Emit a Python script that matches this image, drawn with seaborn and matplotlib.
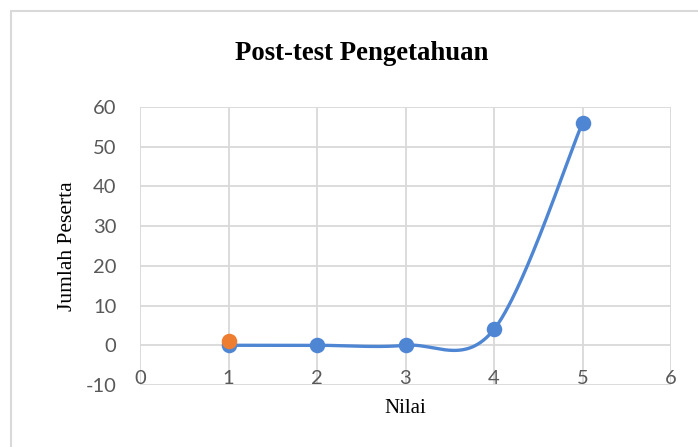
import numpy as np
import matplotlib
matplotlib.use("Agg")
import matplotlib.pyplot as plt
import seaborn as sns
import pandas as pd
from matplotlib.lines import Line2D

# Data
nilai = [1, 2, 3, 4, 5]
jumlah = [0, 0, 0, 4, 56]
extra_x = [1]
extra_y = [1]
x_ticks = [0, 1, 2, 3, 4, 5, 6]
y_ticks = [-10, 0, 10, 20, 30, 40, 50, 60]
title = "Post-test Pengetahuan"
xlabel = "Nilai"
ylabel = "Jumlah Peserta"

blue = "#4F86D3"
orange = "#ED7D31"
grid_c = "#D9D9D9"
tick_c = "#595959"

sns.set_theme(style="white")
plt.rcParams['font.family'] = ['Lato', 'DejaVu Sans']

# Catmull-Rom smoothing (Excel-like smoothed line) through the data points
def smooth(xs, ys, n=60):
    xs = np.asarray(xs, float); ys = np.asarray(ys, float)
    px = np.concatenate([[xs[0]], xs, [xs[-1]]])
    py = np.concatenate([[ys[0]], ys, [ys[-1]]])
    ox, oy = [], []
    for i in range(1, len(px) - 2):
        t = np.linspace(0, 1, n)
        h00 = 2*t**3 - 3*t**2 + 1
        h10 = t**3 - 2*t**2 + t
        h01 = -2*t**3 + 3*t**2
        h11 = t**3 - t**2
        mx0 = (px[i+1] - px[i-1]) / 2; mx1 = (px[i+2] - px[i]) / 2
        my0 = (py[i+1] - py[i-1]) / 2; my1 = (py[i+2] - py[i]) / 2
        ox.append(h00*px[i] + h10*mx0 + h01*px[i+1] + h11*mx1)
        oy.append(h00*py[i] + h10*my0 + h01*py[i+1] + h11*my1)
    return np.concatenate(ox), np.concatenate(oy)

sx, sy = smooth(nilai, jumlah)
curve = pd.DataFrame({"x": sx, "y": sy})
pts = pd.DataFrame({"Nilai": nilai, "Jumlah": jumlah})
pts2 = pd.DataFrame({"Nilai": extra_x, "Jumlah": extra_y})

fig = plt.figure(figsize=(6.98, 4.47), dpi=100)
ax = fig.add_axes([140/698, 1-385/447, (671-140)/698, (385-107)/447])

sns.lineplot(data=curve, x="x", y="y", ax=ax, color=blue, linewidth=2.4,
             sort=False, estimator=None, zorder=3)
sns.scatterplot(data=pts, x="Nilai", y="Jumlah", ax=ax, color=blue, s=125,
                edgecolor=blue, linewidth=0, zorder=4)
sns.scatterplot(data=pts2, x="Nilai", y="Jumlah", ax=ax, color=orange, s=125,
                edgecolor=orange, linewidth=0, zorder=5)

ax.set_xlim(0, 6)
ax.set_ylim(-10, 60)
ax.set_xticks(x_ticks)
ax.set_yticks(y_ticks)
ax.set_xticklabels([str(v) for v in x_ticks])
ax.set_yticklabels([str(v) for v in y_ticks])
ax.grid(True, color=grid_c, linewidth=1.3)
ax.set_axisbelow(True)
for s in ax.spines.values():
    s.set_visible(False)
ax.tick_params(axis='both', length=0, labelsize=14.5, colors=tick_c)
ax.tick_params(axis='x', pad=-10.5)
ax.tick_params(axis='y', pad=17)

ax.set_xlabel(xlabel, family=['Liberation Serif'], fontsize=15, color='black', labelpad=8)
ax.set_ylabel(ylabel, family=['Liberation Serif'], fontsize=15.5, color='black', labelpad=6)

fig.text(362/698, 1-54/447, title, family=['Liberation Serif'], fontsize=19.3,
         fontweight='bold', ha='center', va='center', color='black')

# chart-area border (top and left edges)
fig.add_artist(Line2D([11/698, 1.0], [1-10.5/447, 1-10.5/447], color='#D9D9D9', linewidth=1.5,
                      transform=fig.transFigure))
fig.add_artist(Line2D([11.5/698, 11.5/698], [0, 1-10.5/447], color='#D9D9D9', linewidth=1.5,
                      transform=fig.transFigure))

fig.savefig("out.png", dpi=100)
